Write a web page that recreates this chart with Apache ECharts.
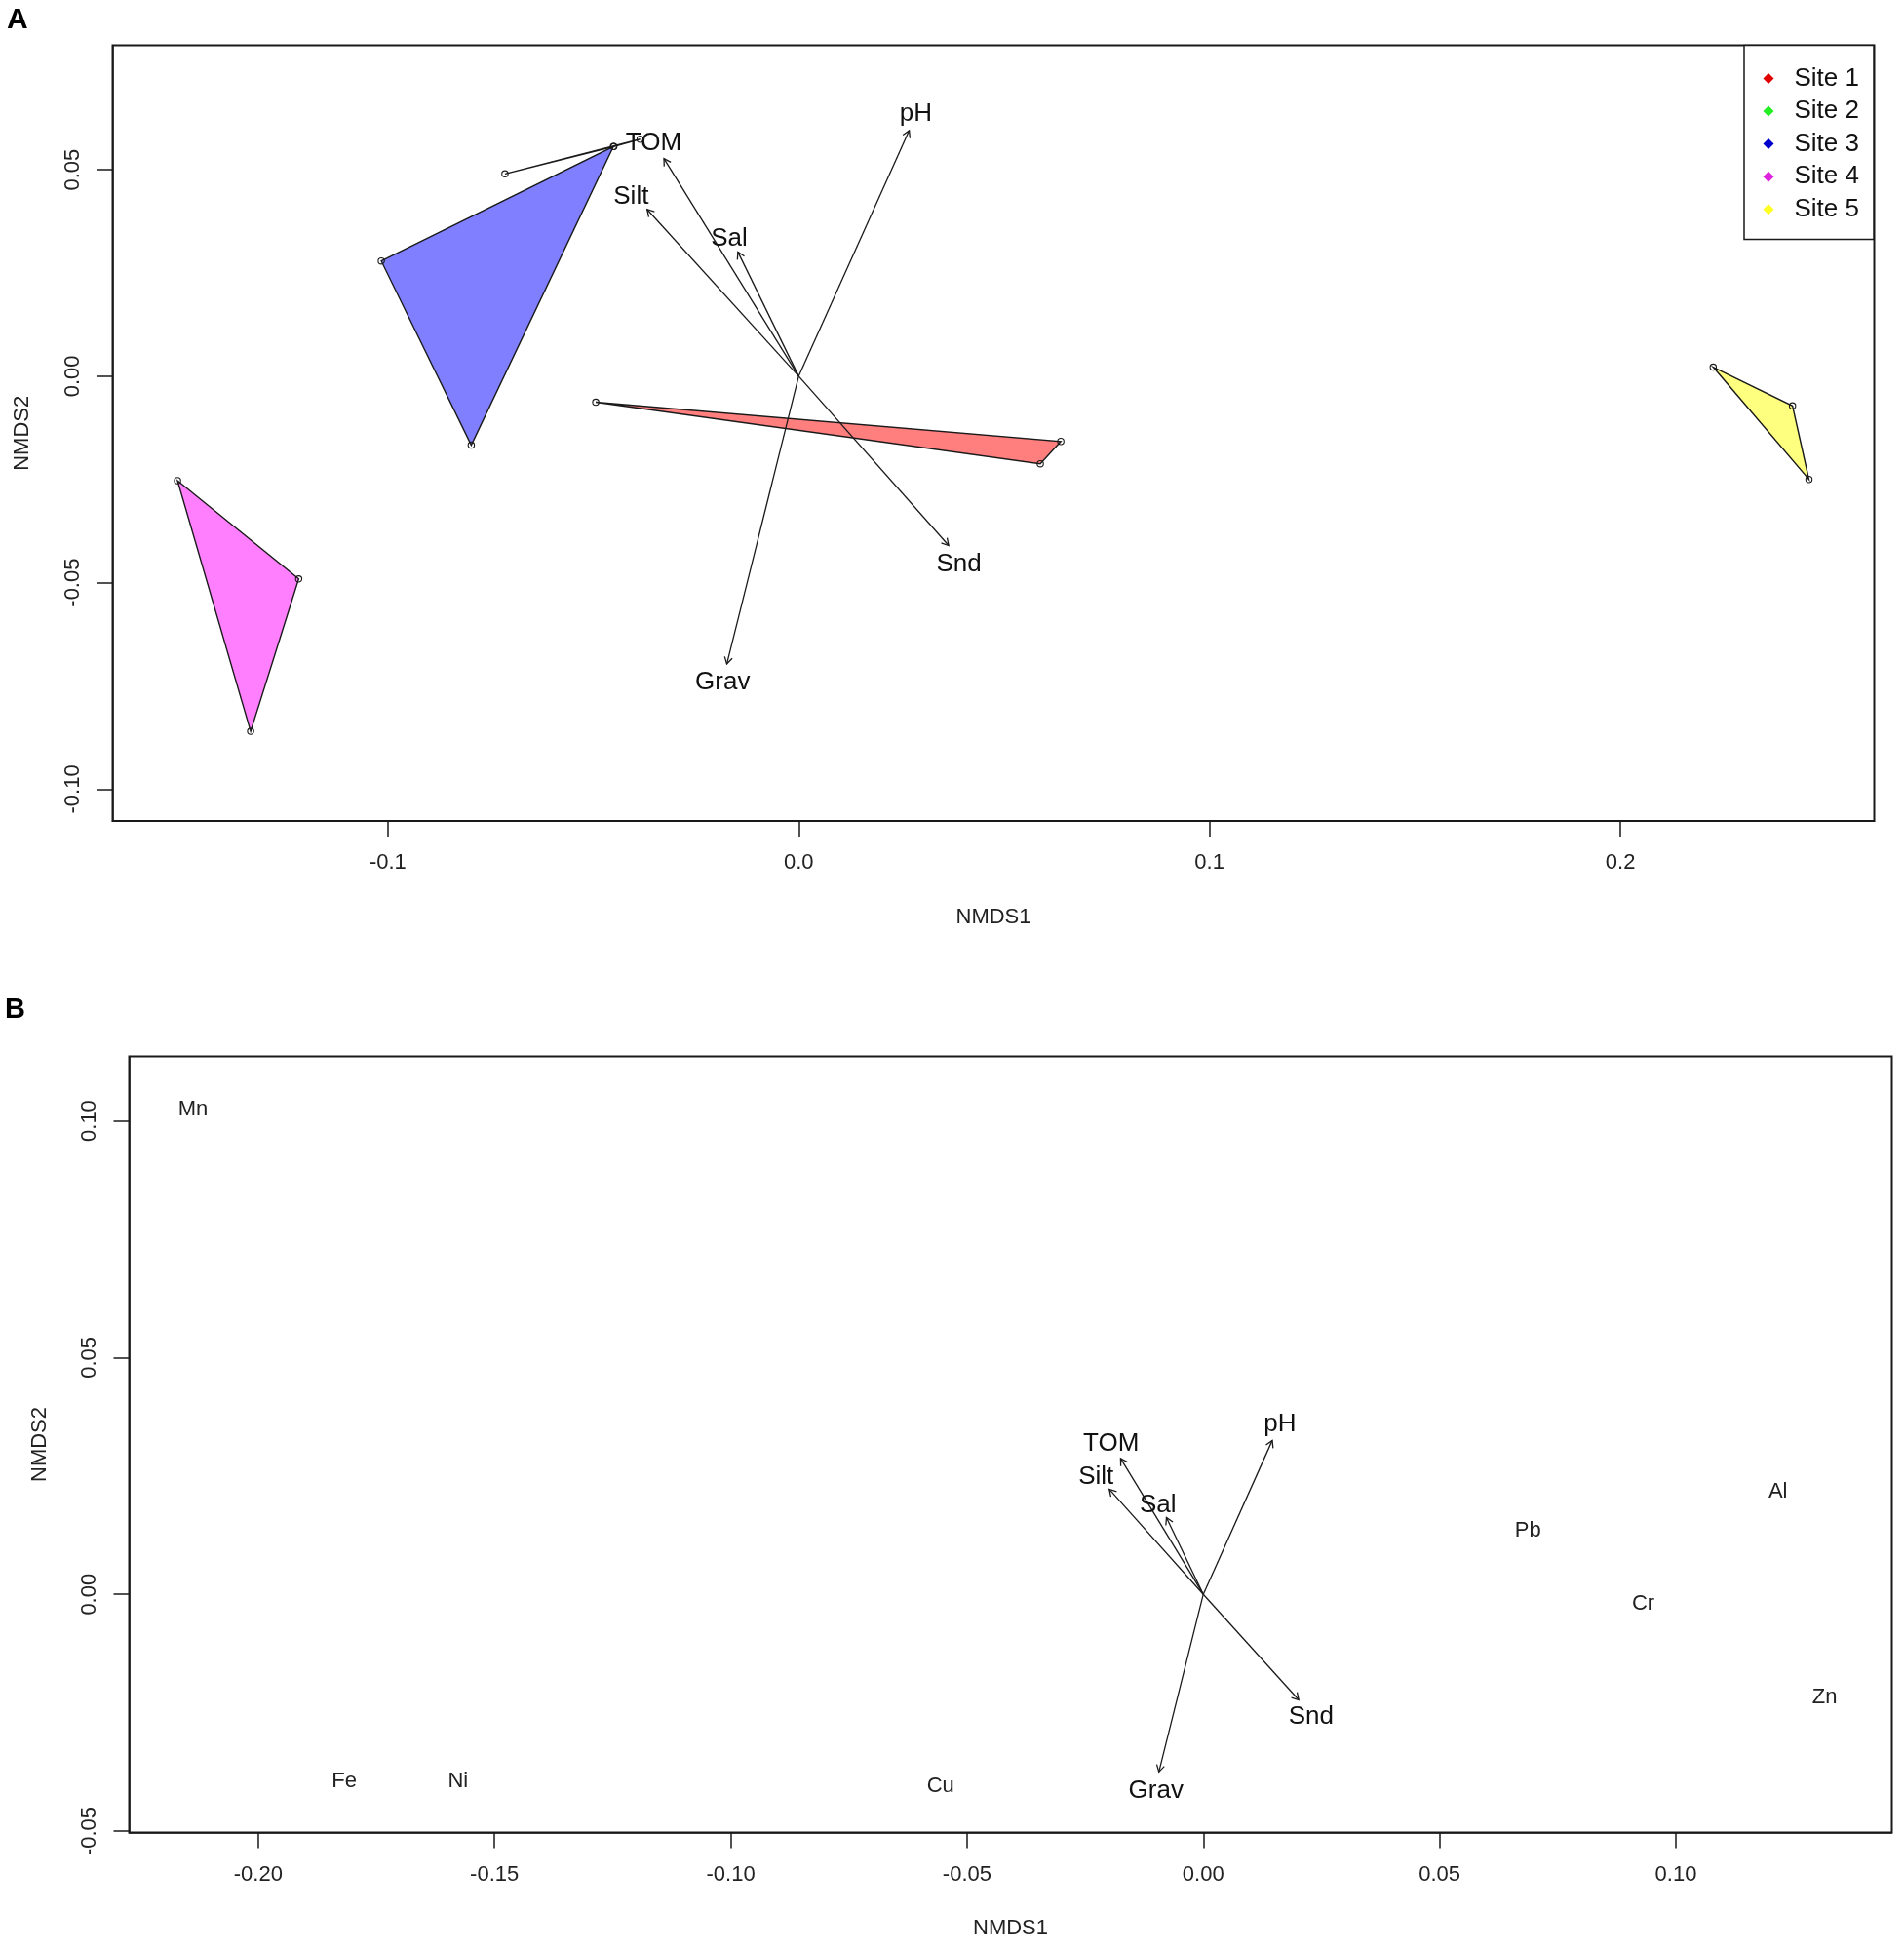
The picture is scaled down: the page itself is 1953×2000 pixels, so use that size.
<!DOCTYPE html>
<html>
<head>
<meta charset="utf-8">
<script src="https://cdn.jsdelivr.net/npm/echarts@6/dist/echarts.min.js"></script>
<style>html,body{margin:0;padding:0;background:#fff;}#c{width:1953px;height:2000px;}</style>
</head>
<body>
<div id="c"></div>
<script>
// ---------- Data ----------
const siteNames = ['Site 1', 'Site 2', 'Site 3', 'Site 4', 'Site 5'];
const siteLegendColors = ['#e00000', '#22ee22', '#0000cc', '#dd22dd', '#ffff22'];
const siteFillColors = ['rgba(255,0,0,0.5)', 'rgba(0,255,0,0.5)', 'rgba(0,0,255,0.5)', 'rgba(255,0,255,0.5)', 'rgba(255,255,0,0.5)'];

const site1Pts = [[-0.0494, -0.0063], [0.0638, -0.0158], [0.0588, -0.0212]];
const site2Pts = [[-0.0715, 0.0490], [-0.0450, 0.0556], [-0.0386, 0.0574]];
const site3Pts = [[-0.1016, 0.0279], [-0.0451, 0.0556], [-0.0797, -0.0167]];
const site4Pts = [[-0.1512, -0.0253], [-0.1217, -0.0491], [-0.1334, -0.0860]];
const site5Pts = [[0.2226, 0.0022], [0.2419, -0.0072], [0.2459, -0.0250]];

const envNames = ['pH', 'TOM', 'Silt', 'Sal', 'Grav', 'Snd'];
// Panel A arrows
const envAX = [0.0269, -0.0328, -0.0369, -0.0148, -0.0175, 0.0365];
const envAY = [0.0595, 0.0527, 0.0404, 0.0301, -0.0697, -0.0410];
const envALabelX = [0.0285, -0.0353, -0.0408, -0.0169, -0.0185, 0.0390];
const envALabelY = [0.0636, 0.0565, 0.0435, 0.0334, -0.0742, -0.0455];
// Panel B arrows
const envBX = [0.0146, -0.0175, -0.0199, -0.0078, -0.0094, 0.0202];
const envBY = [0.0325, 0.0287, 0.0222, 0.0162, -0.0375, -0.0223];
const envBLabelX = [0.0162, -0.0195, -0.0227, -0.0096, -0.0100, 0.0228];
const envBLabelY = [0.0359, 0.0317, 0.0248, 0.0189, -0.0415, -0.0258];

// Panel B metals
const metalNames = ['Mn', 'Fe', 'Ni', 'Cu', 'Pb', 'Al', 'Cr', 'Zn'];
const metalX = [-0.2138, -0.1818, -0.1577, -0.0556, 0.0687, 0.1216, 0.0931, 0.1315];
const metalY = [0.1024, -0.0394, -0.0394, -0.0406, 0.0134, 0.0216, -0.0020, -0.0218];

// Tick labels
const ticksAX = [-0.1, 0.0, 0.1, 0.2];
const ticksAY = [-0.10, -0.05, 0.00, 0.05];
const ticksBX = [-0.20, -0.15, -0.10, -0.05, 0.00, 0.05, 0.10];
const ticksBY = [-0.05, 0.00, 0.05, 0.10];

// ---------- Chart ----------
const FONT = '"Liberation Sans", Arial, Helvetica, sans-serif';
const INK = '#1a1a1a';

function axisCommon(ticks, digits, isY) {
  return {
    type: 'value',
    splitLine: { show: false },
    axisLine: { show: true, onZero: false, lineStyle: { color: INK, width: 1.5 } },
    axisTick: { show: true, length: 16, lineStyle: { color: INK, width: 1.5 }, customValues: ticks },
    axisLabel: {
      customValues: ticks,
      formatter: v => Number(v).toFixed(digits),
      fontFamily: FONT, fontSize: 22, color: '#222',
      rotate: isY ? 90 : 0,
      margin: isY ? 30 : 32
    },
    nameLocation: 'middle',
    nameTextStyle: { fontFamily: FONT, fontSize: 22, color: '#222' }
  };
}

const allSites = [site1Pts, site2Pts, site3Pts, site4Pts, site5Pts];
const siteSeries = allSites.map((pts, i) => ({
  type: 'custom',
  name: siteNames[i],
  coordinateSystem: 'cartesian2d',
  xAxisIndex: 0, yAxisIndex: 0,
  itemStyle: { color: siteLegendColors[i] },
  data: pts,
  z: 2,
  renderItem: (params, api) => {
    const children = [];
    if (params.dataIndex === 0) {
      const points = pts.map(p => api.coord(p));
      children.push({ type: 'polygon', shape: { points }, style: { fill: siteFillColors[i], stroke: INK, lineWidth: 1.4 } });
    }
    const c = api.coord([api.value(0), api.value(1)]);
    children.push({ type: 'circle', shape: { cx: c[0], cy: c[1], r: 3.2 }, style: { fill: 'rgba(0,0,0,0)', stroke: INK, lineWidth: 1.1 } });
    return { type: 'group', children };
  }
}));

function arrowSeries(xs, ys, gi) {
  return {
    type: 'custom', coordinateSystem: 'cartesian2d', xAxisIndex: gi, yAxisIndex: gi, z: 4,
    data: xs.map((x, i) => [x, ys[i]]),
    renderItem: (params, api) => {
      const o = api.coord([0, 0]);
      const e = api.coord([api.value(0), api.value(1)]);
      const ang = Math.atan2(e[1] - o[1], e[0] - o[0]);
      const L = 8, a = Math.PI / 6;
      const h1 = [e[0] - L * Math.cos(ang - a), e[1] - L * Math.sin(ang - a)];
      const h2 = [e[0] - L * Math.cos(ang + a), e[1] - L * Math.sin(ang + a)];
      return { type: 'group', children: [
        { type: 'line', shape: { x1: o[0], y1: o[1], x2: e[0], y2: e[1] }, style: { stroke: INK, lineWidth: 1.3 } },
        { type: 'polyline', shape: { points: [h1, e, h2] }, style: { stroke: INK, lineWidth: 1.3, fill: null } }
      ] };
    }
  };
}

function labelSeries(names, xs, ys, gi, size, color) {
  return {
    type: 'custom', coordinateSystem: 'cartesian2d', xAxisIndex: gi, yAxisIndex: gi, z: 5,
    data: xs.map((x, i) => [x, ys[i], names[i]]),
    renderItem: (params, api) => {
      const p = api.coord([api.value(0), api.value(1)]);
      return { type: 'text', x: p[0], y: p[1], style: { text: names[params.dataIndex], fontFamily: FONT, fontSize: size, fill: color, align: 'center', verticalAlign: 'middle' } };
    }
  };
}

const xA = Object.assign(axisCommon(ticksAX, 1, false), { gridIndex: 0, min: -0.1670, max: 0.2618, name: 'NMDS1', nameGap: 88 });
const yA = Object.assign(axisCommon(ticksAY, 2, true), { gridIndex: 0, min: -0.1077, max: 0.0801, name: 'NMDS2', nameGap: 82 });
const xB = Object.assign(axisCommon(ticksBX, 2, false), { gridIndex: 1, min: -0.2273, max: 0.1457, name: 'NMDS1', nameGap: 87 });
const yB = Object.assign(axisCommon(ticksBY, 2, true), { gridIndex: 1, min: -0.0503, max: 0.1136, name: 'NMDS2', nameGap: 81 });

const option = {
  backgroundColor: '#fff',
  animation: false,
  grid: [
    { left: 115.5, top: 46.6, width: 1807, height: 795.4, show: true, borderColor: INK, borderWidth: 2, backgroundColor: 'rgba(0,0,0,0)' },
    { left: 132.5, top: 1083.5, width: 1808, height: 796, show: true, borderColor: INK, borderWidth: 2, backgroundColor: 'rgba(0,0,0,0)' }
  ],
  xAxis: [xA, xB],
  yAxis: [yA, yB],
  legend: {
    data: siteNames,
    orient: 'vertical',
    left: 1789, top: 46.6,
    icon: 'diamond',
    itemWidth: 11, itemHeight: 11,
    itemGap: 0,
    padding: [17, 15, 14, 19.5],
    borderColor: INK, borderWidth: 1.5,
    backgroundColor: '#fff',
    selectedMode: false,
    textStyle: { fontFamily: FONT, fontSize: 26, color: '#111', lineHeight: 33.6, padding: [0, 0, 0, 16] }
  },
  graphic: [
    { type: 'text', left: 7, top: 6, style: { text: 'A', fontFamily: FONT, fontSize: 30, fontWeight: 'bold', fill: '#000' } },
    { type: 'text', left: 5, top: 1021, style: { text: 'B', fontFamily: FONT, fontSize: 29, fontWeight: 'bold', fill: '#000' } }
  ],
  series: [
    ...siteSeries,
    arrowSeries(envAX, envAY, 0),
    labelSeries(envNames, envALabelX, envALabelY, 0, 26, '#111'),
    arrowSeries(envBX, envBY, 1),
    labelSeries(envNames, envBLabelX, envBLabelY, 1, 26, '#111'),
    labelSeries(metalNames, metalX, metalY, 1, 22, '#222')
  ]
};

const chart = echarts.init(document.getElementById('c'), null, { renderer: 'canvas' });
chart.setOption(option);
</script>
</body>
</html>
